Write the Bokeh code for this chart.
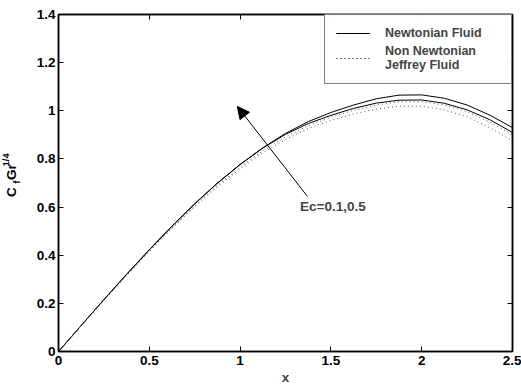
from bokeh.plotting import figure
from bokeh.layouts import row
from bokeh.models import (LinearAxis, FixedTicker, Range1d, Legend, LegendItem,
                          Arrow, NormalHead, Label)
from bokeh.core.properties import value
from bokeh.embed import file_html
from bokeh.resources import INLINE
import math

# ---- data ----
x_vals = [0, 0.125, 0.25, 0.375, 0.5, 0.625, 0.75, 0.875, 1.0, 1.125, 1.25,
          1.375, 1.5, 1.625, 1.75, 1.875, 2.0, 2.125, 2.25, 2.375, 2.5]
newt_ec1 = [0, .108, .215, .320, .422, .520, .613, .699, .777, .846, .906,
            .955, .993, 1.024, 1.050, 1.065, 1.066, 1.052, 1.024, .982, .930]
newt_ec2 = [0, .108, .216, .321, .423, .521, .614, .700, .777, .845, .902,
            .947, .981, 1.010, 1.032, 1.044, 1.045, 1.031, 1.004, .963, .910]
jeff_ec1 = [0, .107, .213, .317, .418, .514, .605, .690, .766, .834, .891,
            .938, .973, 1.002, 1.024, 1.037, 1.038, 1.024, .996, .953, .900]
jeff_ec2 = [0, .107, .213, .316, .416, .511, .601, .684, .759, .825, .881,
            .926, .960, .987, 1.007, 1.019, 1.019, 1.004, .975, .930, .875]

x_ticks = [0, 0.5, 1, 1.5, 2, 2.5]
x_tick_labels = ["0", "0.5", "1", "1.5", "2", "2.5"]
y_ticks = [0, 0.2, 0.4, 0.6, 0.8, 1.0, 1.2, 1.4]
y_tick_labels = ["0", "0.2", "0.4", "0.6", "0.8", "1", "1.2", "1.4"]

arrow_start = (1.37, 0.645)
arrow_end = (0.985, 1.018)
ec_text = "Ec=0.1,0.5"
ec_pos = (1.33, 0.603)

# y label pieces: C_f Gr^{1/4}
ylab_texts = ["C", "f", "Gr", "1/4"]
ylab_sizes = ["13.5px", "9.5px", "13.5px", "9.5px"]

FONT = "Liberation Sans"
LEFT_W = 24

p = figure(width=521 - LEFT_W, height=387, output_backend="svg", toolbar_location=None,
           x_range=Range1d(0, 2.5), y_range=Range1d(0, 1.4),
           min_border_left=58 - LEFT_W, min_border_right=9, min_border_top=14,
           min_border_bottom=36, x_axis_location=None, y_axis_location=None)
p.background_fill_color = "white"
p.border_fill_color = "white"
p.grid.visible = False
p.outline_line_color = "black"
p.outline_line_width = 1.5

def make_axis(ticks, labels, show_labels):
    ax = LinearAxis(ticker=FixedTicker(ticks=ticks))
    ax.major_label_overrides = {t: l for t, l in zip(ticks, labels)}
    ax.major_tick_in = 5
    ax.major_tick_out = 0
    ax.minor_tick_line_color = None
    ax.axis_line_color = "black"
    ax.axis_line_width = 1.5
    ax.major_tick_line_color = "black"
    ax.major_label_text_font = FONT
    ax.major_label_text_font_style = "bold"
    ax.major_label_text_font_size = "13.5px"
    ax.major_label_text_color = "black"
    if not show_labels:
        ax.major_label_text_color = None
        ax.major_label_text_alpha = 0
        ax.major_label_standoff = 0
    return ax

xb = make_axis(x_ticks, x_tick_labels, True)
xb.major_label_standoff = 4
xb.axis_label = "x"
xb.axis_label_text_font = FONT
xb.axis_label_text_font_style = "bold"
xb.axis_label_text_font_size = "13.5px"
xb.axis_label_standoff = 2
p.add_layout(xb, "below")
yl = make_axis(y_ticks, y_tick_labels, True)
yl.major_label_standoff = 3
p.add_layout(yl, "left")
p.add_layout(make_axis(x_ticks, x_tick_labels, False), "above")
p.add_layout(make_axis(y_ticks, y_tick_labels, False), "right")

r1 = p.line(x_vals, newt_ec1, line_color="black", line_width=1)
r2 = p.line(x_vals, newt_ec2, line_color="black", line_width=1)
r3 = p.line(x_vals, jeff_ec1, line_color="#555555", line_width=1, line_dash="1 3")
r4 = p.line(x_vals, jeff_ec2, line_color="#555555", line_width=1, line_dash="1 3")

legend = Legend(items=[LegendItem(label="Newtonian Fluid", renderers=[r1, r2]),
                       LegendItem(label="Non Newtonian\nJeffrey Fluid", renderers=[r3, r4])],
                location="top_right", margin=0, padding=11, spacing=4,
                glyph_width=34, glyph_height=14, label_standoff=15, label_width=115,
                border_line_color="black", border_line_width=1,
                label_text_font=FONT, label_text_font_style="bold",
                label_text_font_size="12.5px", label_height=14)
p.add_layout(legend, "center")

p.add_layout(Arrow(end=NormalHead(size=12, fill_color="black", line_color="black"),
                   x_start=arrow_start[0], y_start=arrow_start[1],
                   x_end=arrow_end[0], y_end=arrow_end[1],
                   line_color="black", line_width=1))
p.add_layout(Label(x=ec_pos[0], y=ec_pos[1], text=ec_text, text_font=FONT,
                   text_font_style="bold", text_font_size="13.5px",
                   text_baseline="middle", text_align="left"))

# narrow side panel holding the rotated y-axis title (pixel coordinates, y downward)
q = figure(width=LEFT_W, height=387, output_backend="svg", toolbar_location=None,
           x_range=Range1d(0, LEFT_W), y_range=Range1d(387, 0),
           min_border=0, x_axis_location=None, y_axis_location=None)
q.grid.visible = False
q.outline_line_color = None
q.background_fill_color = "white"
q.border_fill_color = "white"
px_pos = [11, 15.5, 10.5, 5]
py_pos = [204, 192.5, 181, 167]
for t, s, xx, yy in zip(ylab_texts, ylab_sizes, px_pos, py_pos):
    q.text(x=[xx], y=[yy], text=[t], angle=math.pi / 2, text_font=value(FONT),
           text_font_style="bold", text_font_size=s, text_align="center",
           text_baseline="middle", text_color="black")

layout = row(q, p, spacing=0)
open("out.html", "w").write(file_html(layout, INLINE))
